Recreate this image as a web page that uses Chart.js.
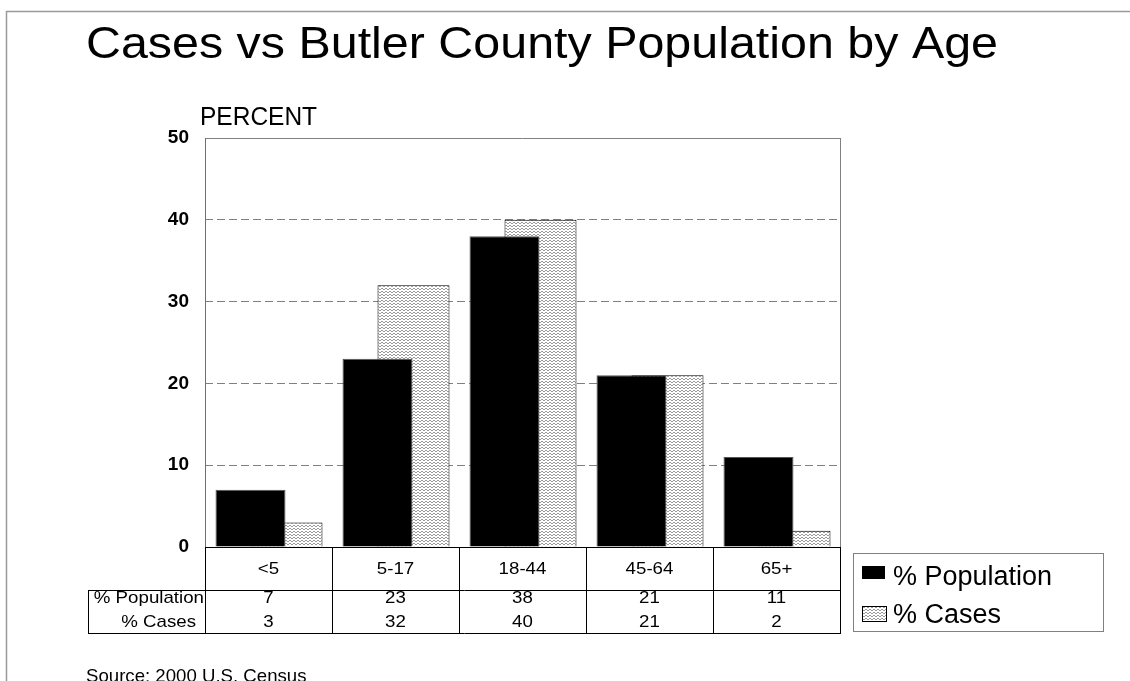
<!DOCTYPE html>
<html>
<head>
<meta charset="utf-8">
<script src="https://cdn.jsdelivr.net/npm/chart.js@4.4.1/dist/chart.umd.min.js"></script>
<style>
  html, body { margin: 0; padding: 0; background: #fff; }
  #wrap { width: 1130px; height: 681px; position: relative; overflow: hidden; }
</style>
</head>
<body>
<div id="wrap"><canvas id="c" width="1130" height="681"></canvas></div>
<script>
// ---- data ----
const titleText = 'Cases vs Butler County Population by Age';
const yAxisTitle = 'PERCENT';
const sourceText = 'Source: 2000 U.S. Census';
const categories = ['<5', '5-17', '18-44', '45-64', '65+'];
const populationPct = [7, 23, 38, 21, 11];
const casesPct = [3, 32, 40, 21, 2];
const seriesLabels = ['% Population', '% Cases'];
const yMin = 0, yMax = 50, yStep = 10;

const FONT = '"Liberation Sans", Arial, Helvetica, sans-serif';

function makePattern() {
  const c = document.createElement('canvas');
  c.width = 8; c.height = 3;
  const g = c.getContext('2d');
  g.fillStyle = '#ffffff'; g.fillRect(0, 0, 8, 3);
  g.fillStyle = '#9a9a9a';
  const rows = ['.xx..xx.', 'x..xx..x', '........'];
  rows.forEach((r, y) => { for (let x = 0; x < r.length; x++) if (r[x] === 'x') g.fillRect(x, y, 1, 1); });
  return g.createPattern(c, 'repeat');
}
const casesFill = makePattern();

function txt(ctx, s, x, y, font, align, sx) {
  ctx.save();
  ctx.font = font;
  ctx.textAlign = align || 'left';
  ctx.textBaseline = 'alphabetic';
  ctx.fillStyle = '#000';
  ctx.translate(x, y);
  ctx.scale(sx || 1, 1);
  ctx.fillText(s, 0, 0);
  ctx.restore();
}
function line(ctx, x1, y1, x2, y2, color, w) {
  ctx.save();
  ctx.strokeStyle = color; ctx.lineWidth = w || 1;
  ctx.beginPath(); ctx.moveTo(x1, y1); ctx.lineTo(x2, y2); ctx.stroke();
  ctx.restore();
}

const decor = {
  id: 'decor',
  afterDraw(chart) {
    const ctx = chart.ctx;
    const a = chart.chartArea;
    const xs = chart.scales.x;
    // outer slide frame
    line(ctx, 6, 11.5, 1130, 11.5, '#9a9a9a', 1.5);
    line(ctx, 6.5, 11, 6.5, 681, '#9a9a9a', 1.5);
    // title
    txt(ctx, titleText, 542, 58, '44px ' + FONT, 'center', 1.1);
    txt(ctx, yAxisTitle, 200, 125, '25px ' + FONT, 'left', 0.98);
    // plot frame
    line(ctx, a.left, a.top + 0.5, a.right, a.top + 0.5, '#808080', 1);
    line(ctx, a.right + 0.5, a.top, a.right + 0.5, a.bottom, '#808080', 1);
    line(ctx, a.left + 0.5, a.top, a.left + 0.5, a.bottom, '#707070', 1);
    line(ctx, a.left, a.bottom + 0.5, a.right + 1, a.bottom + 0.5, '#000', 1);
    // data table
    const half = (xs.getPixelForValue(1) - xs.getPixelForValue(0)) / 2;
    const row1 = 590, row2 = 633, tblLeft = 88;
    line(ctx, tblLeft, row1 + 0.5, a.right + 1, row1 + 0.5, '#000', 1);
    line(ctx, tblLeft, row2 + 0.5, a.right + 1, row2 + 0.5, '#000', 1);
    line(ctx, tblLeft + 0.5, row1, tblLeft + 0.5, row2 + 1, '#000', 1);
    const tf = '17px ' + FONT;
    categories.forEach((cat, i) => {
      const cx = xs.getPixelForValue(i);
      const bx = Math.round(cx - half) + 0.5;
      line(ctx, bx, a.bottom, bx, row2 + 1, '#000', 1);
      if (i === categories.length - 1) {
        const ex = Math.round(cx + half) + 0.5;
        line(ctx, ex, a.bottom, ex, row2 + 1, '#000', 1);
      }
      txt(ctx, cat, cx, 574, tf, 'center', 1.1);
      txt(ctx, String(populationPct[i]), cx, 603, tf, 'center', 1.1);
      txt(ctx, String(casesPct[i]), cx, 627, tf, 'center', 1.1);
    });
    txt(ctx, seriesLabels[0], 204, 603, tf, 'right', 1.1);
    txt(ctx, seriesLabels[1], 196, 627, tf, 'right', 1.1);
    // legend
    ctx.save();
    ctx.strokeStyle = '#808080'; ctx.lineWidth = 1;
    ctx.strokeRect(853.5, 553.5, 250, 78);
    ctx.restore();
    const ds = chart.data.datasets;
    const lf = '27px ' + FONT;
    ctx.save();
    ctx.fillStyle = ds[0].backgroundColor;
    ctx.fillRect(862, 566, 23, 13);
    ctx.fillStyle = ds[1].backgroundColor;
    ctx.fillRect(862, 606, 24, 15);
    ctx.strokeStyle = '#000'; ctx.lineWidth = 1;
    ctx.strokeRect(862.5, 606.5, 24, 15);
    ctx.restore();
    txt(ctx, ds[0].label, 893, 585, lf, 'left', 1);
    txt(ctx, ds[1].label, 893, 623, lf, 'left', 1);
    // source
    txt(ctx, sourceText, 86, 682, '19px ' + FONT, 'left', 0.98);
  }
};

new Chart(document.getElementById('c'), {
  type: 'bar',
  data: {
    labels: categories,
    datasets: [
      {
        label: seriesLabels[0],
        data: populationPct,
        backgroundColor: '#000000',
        borderColor: '#555555',
        borderWidth: 1,
        barPercentage: 1.944,
        categoryPercentage: 0.567
      },
      {
        label: seriesLabels[1],
        data: casesPct,
        backgroundColor: casesFill,
        borderColor: '#000000',
        borderWidth: 1,
        barPercentage: 2.0,
        categoryPercentage: 0.567
      }
    ]
  },
  options: {
    responsive: false,
    devicePixelRatio: 1,
    animation: false,
    layout: { padding: { left: 0, right: 290, top: 138, bottom: 0 } },
    plugins: { legend: { display: false }, title: { display: false }, tooltip: { enabled: false } },
    scales: {
      x: {
        type: 'category',
        grid: { display: false },
        border: { display: false },
        ticks: { display: false },
        afterFit(scale) { scale.height = 134; }
      },
      y: {
        min: yMin, max: yMax,
        ticks: {
          stepSize: yStep,
          padding: 16,
          color: '#000',
          font: { family: FONT, size: 19, weight: 'bold' }
        },
        grid: {
          drawTicks: false,
          color: (c) => (c.tick && (c.tick.value === yMin || c.tick.value === yMax)) ? 'rgba(0,0,0,0)' : '#808080',
          lineWidth: 1
        },
        border: { display: false, dash: [8, 4] },
        afterFit(scale) { scale.width = 205; }
      }
    }
  },
  plugins: [decor]
});
</script>
</body>
</html>
